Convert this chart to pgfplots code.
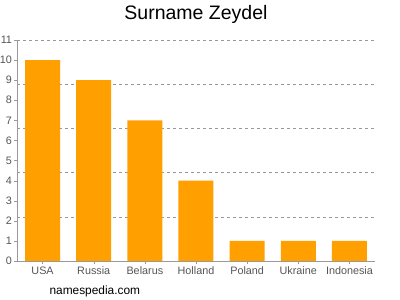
\documentclass[border=0pt]{standalone}
\usepackage{fontspec}
\setmainfont{Liberation Sans}
\usepackage{pgfplots}
\pgfplotsset{compat=1.18}
\definecolor{barorange}{HTML}{FFA000}
\definecolor{axgray}{HTML}{999999}
\definecolor{txtgray}{HTML}{555555}
\begin{document}
\begin{tikzpicture}[x=1pt,y=1pt]
\useasboundingbox (0,0) rectangle (400,300);
\begin{axis}[
  at={(17pt,39pt)}, anchor=south west,
  scale only axis, width=358pt, height=221pt,
  xmin=-0.5, xmax=6.5, ymin=0, ymax=11,
  axis lines=left, axis line style={axgray, -},
  xtick=data,
  xticklabels={USA,Russia,Belarus,Holland,Poland,Ukraine,Indonesia},
  ytick={0,1,...,11},
  tick style={axgray},
  tick align=outside, major tick length=3pt,
  ticklabel style={font=\fontsize{10.8}{12}\selectfont, text=txtgray},
  /pgf/number format/assume math mode=true,
  yticklabel style={xshift=1.5pt},
  xticklabel style={yshift=1pt},
  extra y ticks={2.2,4.4,6.6,8.8,11},
  extra y tick labels={},
  extra y tick style={grid=major, major grid style={axgray, dashed}, tick style={draw=none}},
  ybar, bar width=35pt,
  clip=false,
]
\addplot[fill=barorange, draw=none] coordinates {(0,10) (1,9) (2,7) (3,4) (4,1) (5,1) (6,1)};
\end{axis}
\node[font=\fontsize{19.5}{22}\selectfont] at (196,286) {Surname Zeydel};
\node[font=\fontsize{11.9}{13}\selectfont, anchor=west] at (46,9) {namespedia.com};
\end{tikzpicture}
\end{document}
